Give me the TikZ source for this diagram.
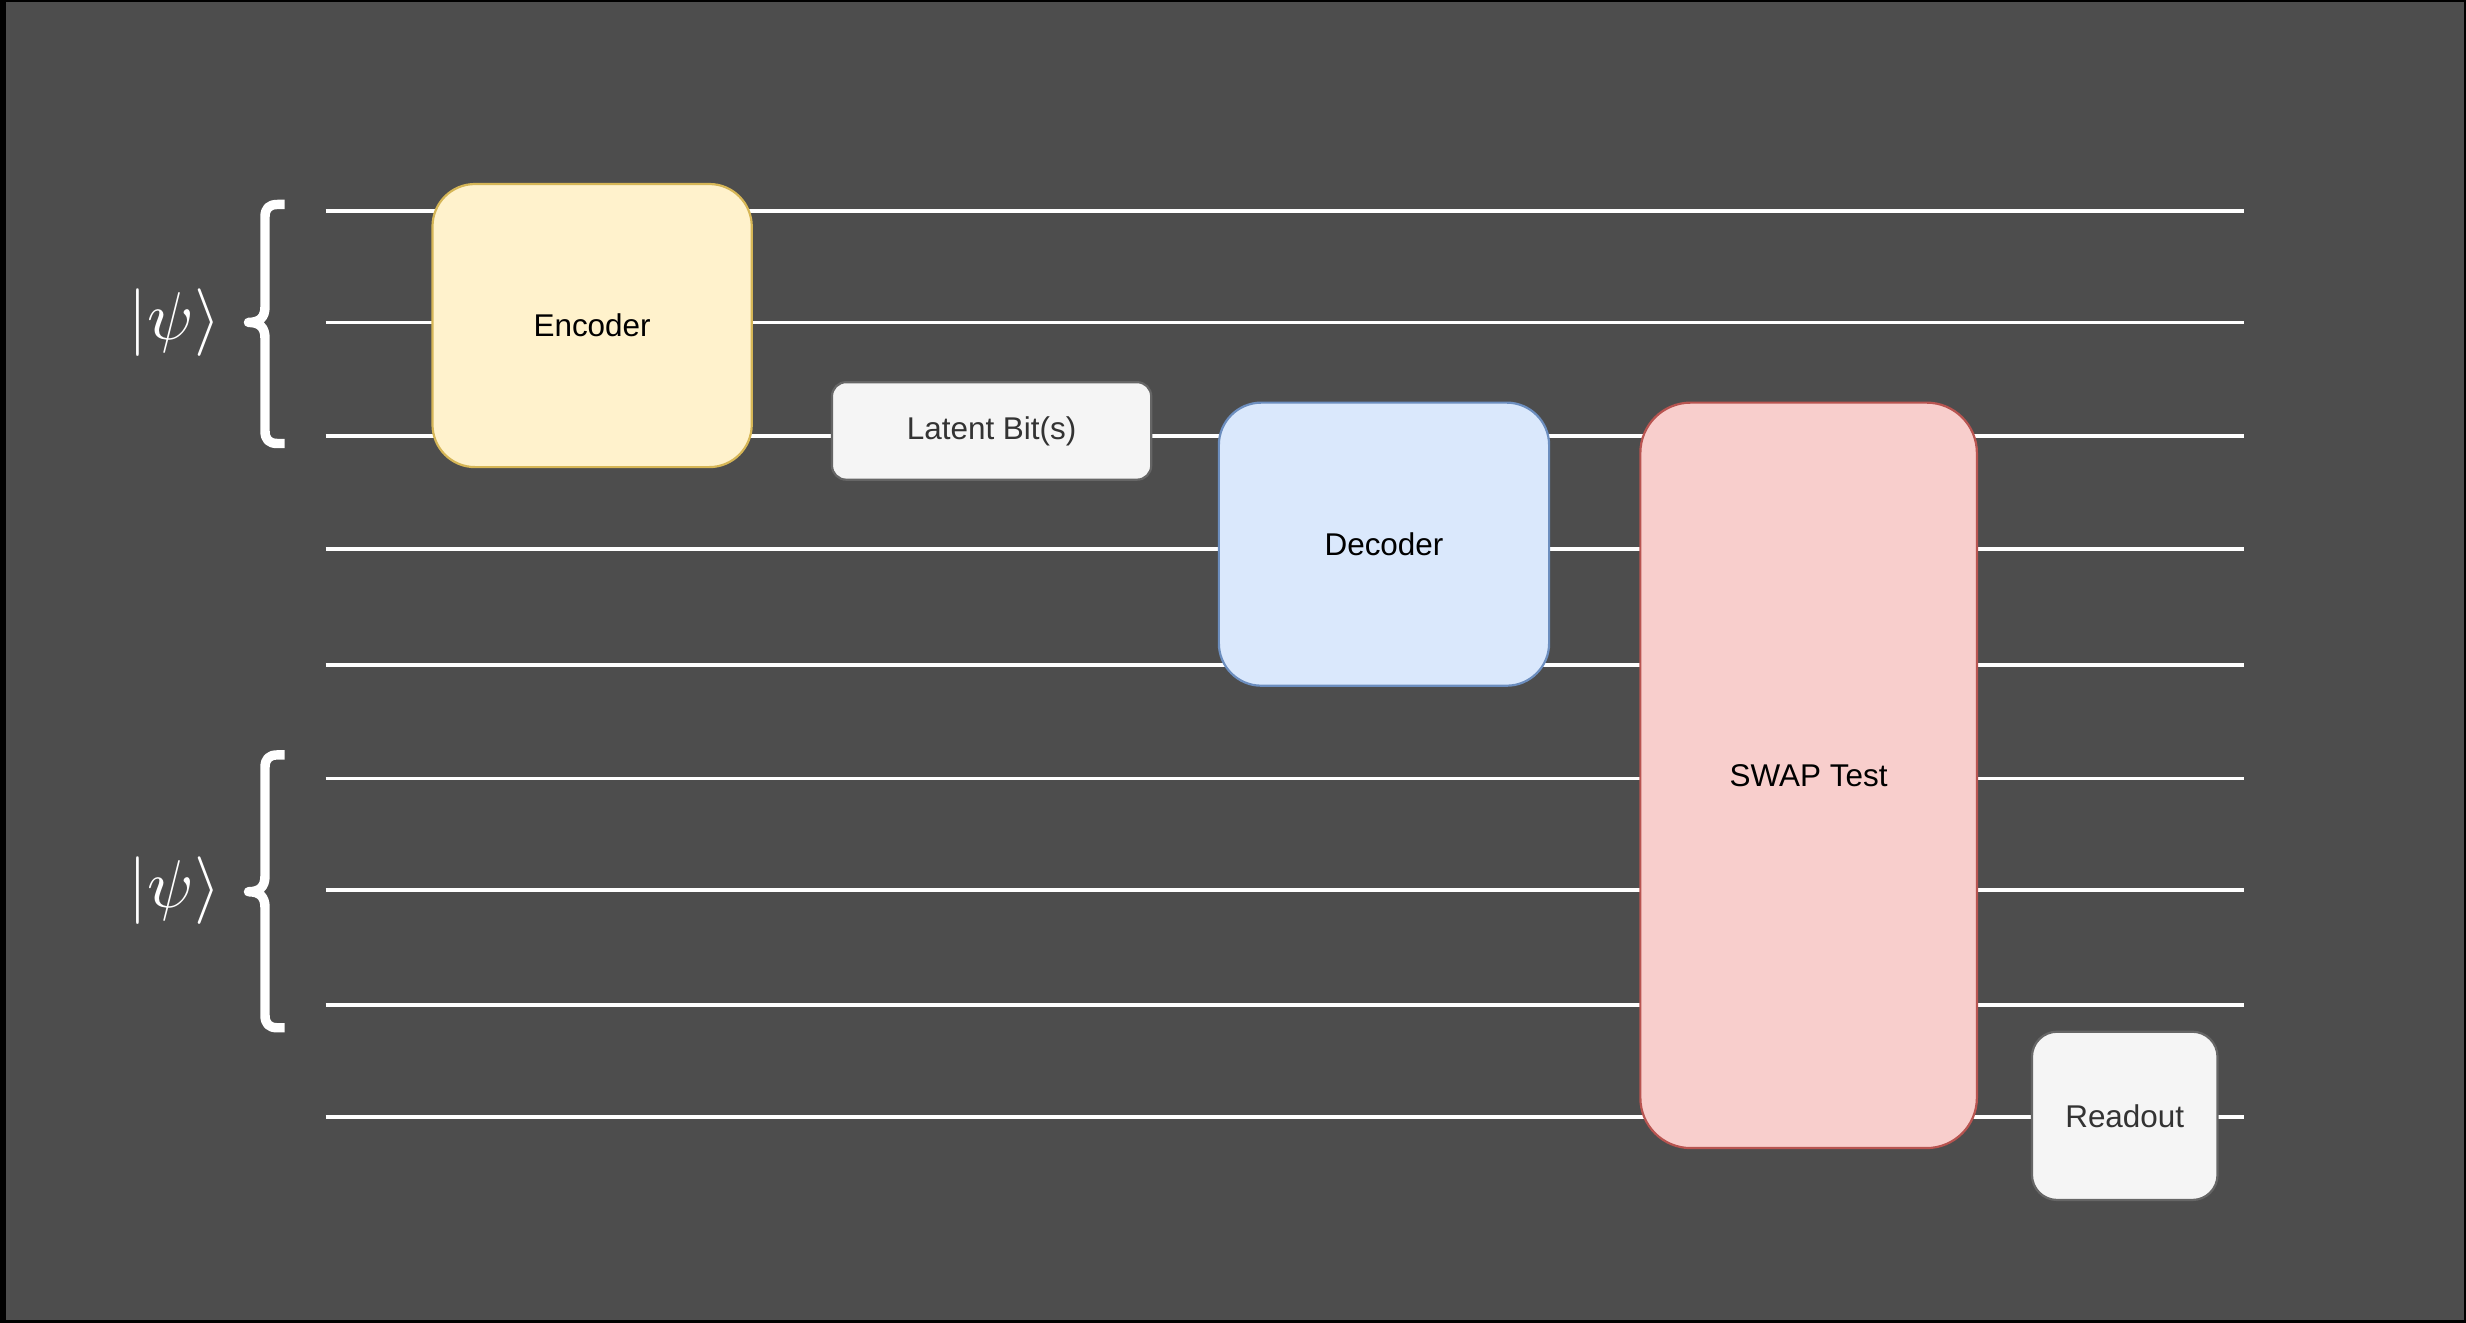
\documentclass[tikz,border=0pt]{standalone}
\usepackage{fontspec}
\usepackage{graphicx}
\setmainfont{Liberation Sans}
\definecolor{bgdark}{HTML}{4D4D4D}
\definecolor{encfill}{HTML}{FFF2CC}
\definecolor{encdraw}{HTML}{D6B656}
\definecolor{decfill}{HTML}{DAE8FC}
\definecolor{decdraw}{HTML}{6C8EBF}
\definecolor{swapfill}{HTML}{F8CECC}
\definecolor{swapdraw}{HTML}{B85450}
\definecolor{greyfill}{HTML}{F5F5F5}
\definecolor{greydraw}{HTML}{666666}
\definecolor{greytext}{HTML}{333333}
\tikzset{
  wire/.style={draw=white, line width=1.2pt},
  gate/.style={rectangle, line width=0.7pt, inner sep=0pt, align=center,
    font=\fontsize{10}{12}\selectfont},
  encbox/.style={gate, fill=encfill, draw=encdraw, text=black, rounded corners=13.5pt},
  decbox/.style={gate, fill=decfill, draw=decdraw, text=black, rounded corners=13.5pt},
  swapbox/.style={gate, fill=swapfill, draw=swapdraw, text=black, rounded corners=16pt},
  greybox/.style={gate, fill=greyfill, draw=greydraw, text=greytext},
  bracestyle/.style={draw=white, line width=3pt, line join=round, line cap=butt},
  ketlabel/.style={text=white, inner sep=0pt}
}
\begin{document}
\begin{tikzpicture}[x=0.5pt, y=-0.5pt]
\useasboundingbox (0,0) rectangle (1568,841);
% background frame
\fill[black] (0,0) rectangle (1568,841);
\fill[bgdark] (3.6,1.2) rectangle (1566.4,839.4);

% wires
\foreach \i/\yy in {1/134,2/205,3/277,4/349,5/423,6/495,7/566,8/639,9/710}{
  \coordinate (ws\i) at (207,\yy);
  \coordinate (we\i) at (1427,\yy);
}
\foreach \i in {1,...,9}{
  \draw[wire] (ws\i) -- (we\i);
}

% gates
\node[encbox, minimum width=101.5pt, minimum height=90pt] (enc) at (376.5,207) {Encoder};
\node[greybox, rounded corners=4.5pt, minimum width=101.5pt, minimum height=31pt] (latent) at (630.5,274) {Latent Bit(s)};
\node[decbox, minimum width=105pt, minimum height=90pt] (dec) at (880,346) {Decoder};
\node[swapbox, minimum width=107pt, minimum height=237pt] (swap) at (1150,493) {SWAP Test};
\node[greybox, rounded corners=8pt, minimum width=59pt, minimum height=53.5pt] (readout) at (1351,709.5) {Readout};

% braces
\draw[bracestyle] (181,130) -- (176.5,130) .. controls (171,130) and (168.5,132.5) .. (168.5,138)
  -- (168.5,195) .. controls (168.5,202) and (165,205) .. (158,205)
  .. controls (165,205) and (168.5,208) .. (168.5,215)
  -- (168.5,274) .. controls (168.5,279.5) and (171,282) .. (176.5,282) -- (181,282);
\draw[bracestyle] (181,480) -- (176.5,480) .. controls (171,480) and (168.5,482.5) .. (168.5,488)
  -- (168.5,557) .. controls (168.5,564) and (165,567) .. (158,567)
  .. controls (165,567) and (168.5,570) .. (168.5,577)
  -- (168.5,645.5) .. controls (168.5,651) and (171,653.5) .. (176.5,653.5) -- (181,653.5);

% kets
\node[ketlabel] (ket1) at (111,205) {\scalebox{2.15}{$|\psi\rangle$}};
\node[ketlabel] (ket2) at (111,566) {\scalebox{2.15}{$|\psi\rangle$}};
\end{tikzpicture}
\end{document}
